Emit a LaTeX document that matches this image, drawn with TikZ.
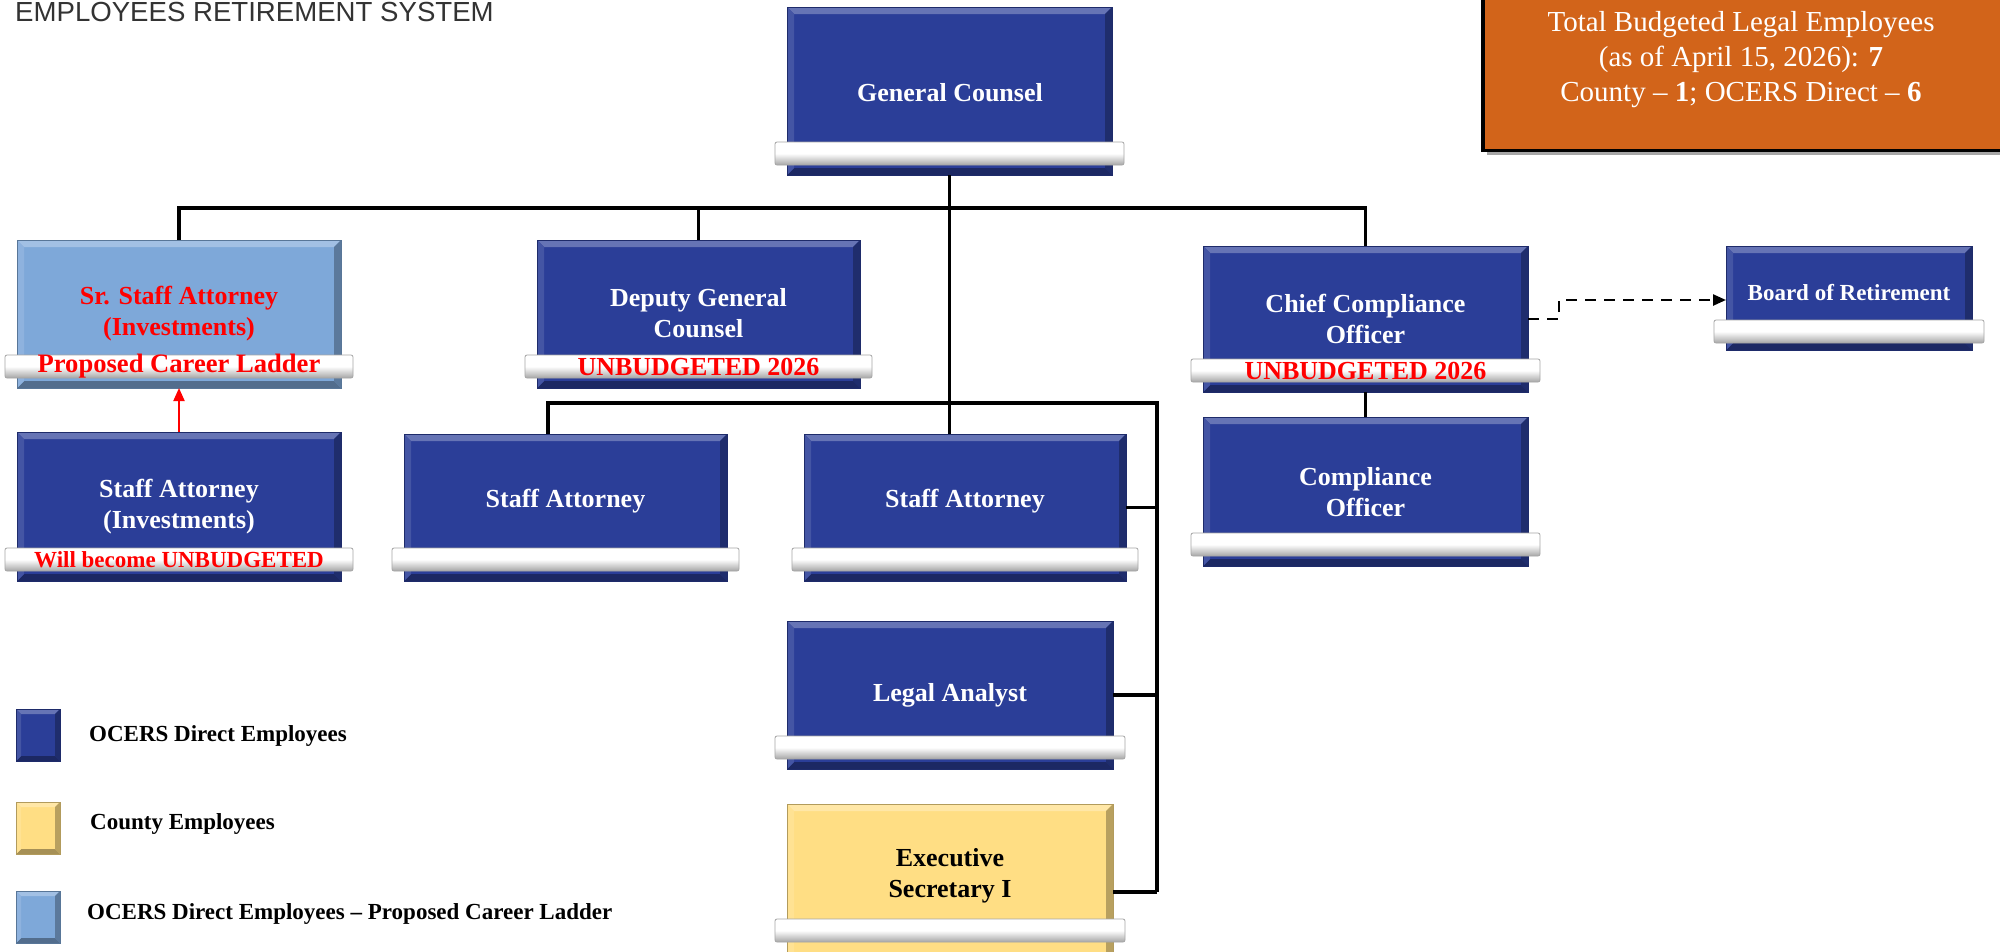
\documentclass[tikz,border=0pt]{standalone}
\usepackage{fontspec}
\setmainfont{Liberation Serif}
\newfontfamily\hdrfont{Liberation Sans}
\usetikzlibrary{arrows.meta}
\definecolor{ocblue}{HTML}{2B3E98}
\definecolor{oclight}{HTML}{7EA8D9}
\definecolor{ocyellow}{HTML}{FFDE84}
\definecolor{ocorange}{HTML}{D2641A}
\definecolor{hdrgray}{HTML}{333333}
\tikzset{
  boxshape/.style={rectangle, inner sep=0pt, outer sep=0pt},
  barshape/.style={rectangle, rounded corners=2pt, inner sep=0pt, outer sep=0pt,
    minimum height=23pt, draw=black!35, line width=0.8pt,
    top color=white, bottom color=black!35, middle color=white},
  boxtext/.style={font=\fontsize{26}{31}\selectfont\bfseries, text=white, align=center, inner sep=0pt},
  bartext/.style={font=\fontsize{26}{28}\selectfont\bfseries, text=red, inner sep=0pt},
  conn/.style={draw=black, line width=3.2pt},
  dashline/.style={draw=black, line width=2.4pt, dash pattern=on 11pt off 8pt, -{Triangle[length=13pt,width=11pt]}},
  ladder/.style={draw=red, line width=2pt, -{Triangle[length=13pt,width=11pt]}},
  legendtext/.style={font=\fontsize{23}{26}\selectfont\bfseries, anchor=west, inner sep=0pt},
}
\newcommand\bevel[3]{%
  \fill[#2!72!white] (#1.north west) -- (#1.north east) -- ([xshift=-#3pt,yshift=-#3pt]#1.north east) -- ([xshift=#3pt,yshift=-#3pt]#1.north west) -- cycle;
  \fill[#2!72!black] (#1.north east) -- (#1.south east) -- ([xshift=-#3pt,yshift=#3pt]#1.south east) -- ([xshift=-#3pt,yshift=-#3pt]#1.north east) -- cycle;
  \fill[#2!65!black] (#1.south east) -- (#1.south west) -- ([xshift=#3pt,yshift=#3pt]#1.south west) -- ([xshift=-#3pt,yshift=#3pt]#1.south east) -- cycle;
  \fill[#2!88!white] (#1.south west) -- (#1.north west) -- ([xshift=#3pt,yshift=-#3pt]#1.north west) -- ([xshift=#3pt,yshift=#3pt]#1.south west) -- cycle;
  \draw[#2!70!black, line width=0.8pt] (#1.north west) rectangle (#1.south east);
}
\newcommand\orgbox[7]{%
  \pgfmathsetmacro\obw{#4-#2}%
  \pgfmathsetmacro\obh{#5-#3}%
  \pgfmathsetmacro\obx{(#2+#4)/2}%
  \pgfmathsetmacro\oby{(#3+#5)/2}%
  \pgfmathsetmacro\obbw{#4-#2+24}%
  \pgfmathsetmacro\obby{#7+11.5}%
  \node[boxshape, fill=#6, minimum width=\obw pt, minimum height=\obh pt] (#1) at (\obx,\oby) {};
  \bevel{#1}{#6}{7}
  \node[barshape, minimum width=\obbw pt] (#1-bar) at (\obx,\obby) {};
}
\begin{document}
\begin{tikzpicture}[x=1pt,y=-1pt]
\useasboundingbox (0,0) rectangle (2000,951);
\fill[white] (0,0) rectangle (2000,951);

% header
\node[font=\hdrfont\fontsize{27.6}{30}\selectfont, text=hdrgray, anchor=base west, inner sep=0pt] (hdr) at (15,21) {EMPLOYEES RETIREMENT SYSTEM};

% total box
\fill[black!35] (1487,-10) rectangle (2010,155);
\node[rectangle, draw=black, line width=3.5pt, fill=ocorange, minimum width=530pt, minimum height=165pt, inner sep=0pt] (total) at (1748,68) {};
\node[font=\fontsize{29}{35}\selectfont, text=white, align=center, inner sep=0pt] (total-t) at (1741,60)
  {Total Budgeted Legal Employees\\(as of April 15, 2026): \textbf{7}\\County – \textbf{1}; OCERS Direct – \textbf{6}};

% boxes
\orgbox{gc}{787}{7}{1112}{175}{ocblue}{142}
\orgbox{ssa}{17}{240}{341}{388}{oclight}{355}
\orgbox{dgc}{537}{240}{860}{388}{ocblue}{355}
\orgbox{cco}{1203}{246}{1528}{392}{ocblue}{359}
\orgbox{bor}{1726}{246}{1972}{350}{ocblue}{320}
\orgbox{sai}{17}{432}{341}{581}{ocblue}{548}
\orgbox{sa1}{404}{434}{727}{581}{ocblue}{548}
\orgbox{sa2}{804}{434}{1126}{581}{ocblue}{548}
\orgbox{co}{1203}{417}{1528}{566}{ocblue}{533}
\orgbox{la}{787}{621}{1113}{769}{ocblue}{736}
\orgbox{es}{787}{804}{1113}{960}{ocyellow}{919}

% texts
\node[boxtext] (gc-t) at (950,93) {General Counsel};
\node[boxtext, text=red] (ssa-t) at (179,314) {Sr. Staff Attorney\\(Investments)};
\node[bartext, font=\fontsize{26.6}{28}\selectfont\bfseries] (ssa-b) at (ssa-bar) {Proposed Career Ladder};
\node[boxtext] (dgc-t) at (698.5,313) {Deputy General\\Counsel};
\node[bartext] (dgc-b) at (dgc-bar) {UNBUDGETED 2026};
\node[boxtext] (cco-t) at (1365.5,319) {Chief Compliance\\Officer};
\node[bartext] (cco-b) at (cco-bar) {UNBUDGETED 2026};
\node[boxtext, font=\fontsize{23}{26}\selectfont\bfseries] (bor-t) at (1849,293) {Board of Retirement};
\node[boxtext] (sai-t) at (179,507) {Staff Attorney\\(Investments)};
\node[bartext, font=\fontsize{23}{26}\selectfont\bfseries] (sai-b) at (sai-bar) {Will become UNBUDGETED};
\node[boxtext] (sa1-t) at (565.5,501) {Staff Attorney};
\node[boxtext] (sa2-t) at (965,501) {Staff Attorney};
\node[boxtext] (co-t) at (1365.5,492) {Compliance\\Officer};
\node[boxtext] (la-t) at (950,695) {Legal Analyst};
\node[boxtext, text=black] (es-t) at (950,876) {Executive\\Secretary I};

% connectors
\coordinate (hb) at (950,208);
\coordinate (lbL) at (548,403);
\coordinate (lbR) at (1157,403);
\coordinate (esy) at (0,892);
\coordinate (dk1) at (1559,319);
\coordinate (dk2) at (1559,300);
\draw[conn] (gc.south) -- (gc.south |- sa2.north);
\draw[conn] (ssa.north) |- (hb) -| (cco.north);
\draw[conn] (dgc.north) -- (dgc.north |- hb);
\draw[conn] (sa1.north -| lbL) -- (lbL) -- (lbR) -- (lbR |- esy);
\draw[conn] (sa2.east) -- (sa2.east -| lbR);
\draw[conn] (la.east) -- (la.east -| lbR);
\draw[conn] (es.east |- esy) -- (esy -| lbR);
\draw[conn] (cco.south) -- (co.north);
\draw[dashline] (cco.east |- dk1) -- (dk1) -- (dk2) -- (bor.west |- dk2);
\draw[ladder] (sai.north) -- (ssa.south);

% legend
\node[boxshape, fill=ocblue, minimum width=44pt, minimum height=52pt] (lg1) at (38,735) {};
\bevel{lg1}{ocblue}{5}
\node[boxshape, fill=ocyellow, minimum width=44pt, minimum height=52pt] (lg2) at (38,828) {};
\bevel{lg2}{ocyellow}{5}
\node[boxshape, fill=oclight, minimum width=44pt, minimum height=52pt] (lg3) at (38,917) {};
\bevel{lg3}{oclight}{5}
\node[legendtext] (lg1-t) at (89,736) {OCERS Direct Employees};
\node[legendtext] (lg2-t) at (90,824) {County Employees};
\node[legendtext] (lg3-t) at (87,914) {OCERS Direct Employees – Proposed Career Ladder};
\end{tikzpicture}
\end{document}
